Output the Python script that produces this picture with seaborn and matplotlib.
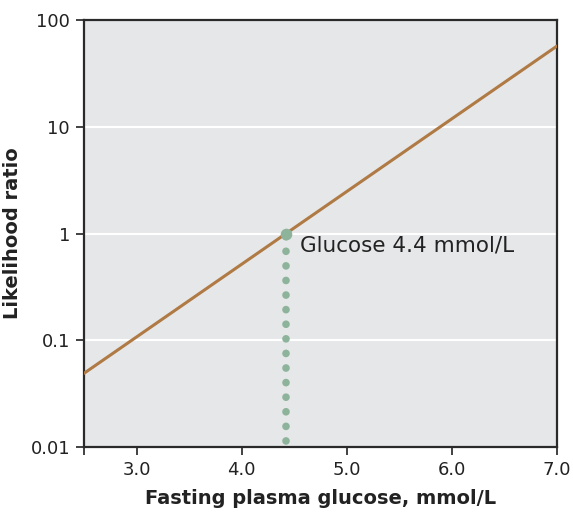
import numpy as np
import pandas as pd
import matplotlib
matplotlib.use("Agg")
import matplotlib.pyplot as plt
import seaborn as sns

sns.set_style("white")
plt.rcParams['font.family'] = ['DejaVu Sans']

# likelihood ratio line
glucose = [2.5, 7.0]
likelihood = [0.049, 57.0]

# marked point
point_glucose = 4.42
point_lr = 1.0
point_label = "Glucose 4.4 mmol/L"

xticks = [2.5, 3.0, 4.0, 5.0, 6.0, 7.0]
xticklabels = ["", "3.0", "4.0", "5.0", "6.0", "7.0"]
yticks = [0.01, 0.1, 1, 10, 100]
yticklabels = ["0.01", "0.1", "1", "10", "100"]

df = pd.DataFrame({"glucose": glucose, "lr": likelihood})

fig = plt.figure(figsize=(5.73, 5.17), dpi=100)
ax = fig.add_axes([0.1466, 0.1354, 0.8254, 0.8259])
ax.set_facecolor("#e6e7e9")

ax.set_yscale("log")
ax.set_xlim(2.5, 7.0)
ax.set_ylim(0.01, 100)

for yv in [0.1, 1, 10]:
    ax.axhline(yv, color="white", lw=1.5, zorder=1)

# dotted drop line
ax.plot([point_glucose, point_glucose], [0.0115, point_lr], color="#8db49a",
        lw=5.5, linestyle=(0, (0.01, 1.9)), dash_capstyle="round", zorder=2)

sns.lineplot(data=df, x="glucose", y="lr", ax=ax, color="#b07a45", lw=2.2, zorder=3)

ax.scatter([point_glucose], [point_lr], s=70, color="#8db49a", zorder=4, linewidths=0)
ax.text(4.555, 0.77, point_label, fontsize=15.5, color="#222222", va="center", ha="left")

ax.set_xticks(xticks)
ax.set_xticklabels(xticklabels, fontsize=13, color="#222222")
ax.set_yticks(yticks)
ax.set_yticklabels(yticklabels, fontsize=13, color="#222222")
ax.minorticks_off()
ax.tick_params(axis="both", direction="out", length=6, width=1.3, color="#333333", pad=4,
               bottom=True, left=True)

for s in ax.spines.values():
    s.set_color("#2a2a2a")
    s.set_linewidth(1.6)

ax.set_xlabel("Fasting plasma glucose, mmol/L", fontsize=14, fontweight="bold", color="#222222", labelpad=7)
ax.set_ylabel("Likelihood ratio", fontsize=14, fontweight="bold", color="#222222", labelpad=6)

fig.savefig("out.png", dpi=100)
